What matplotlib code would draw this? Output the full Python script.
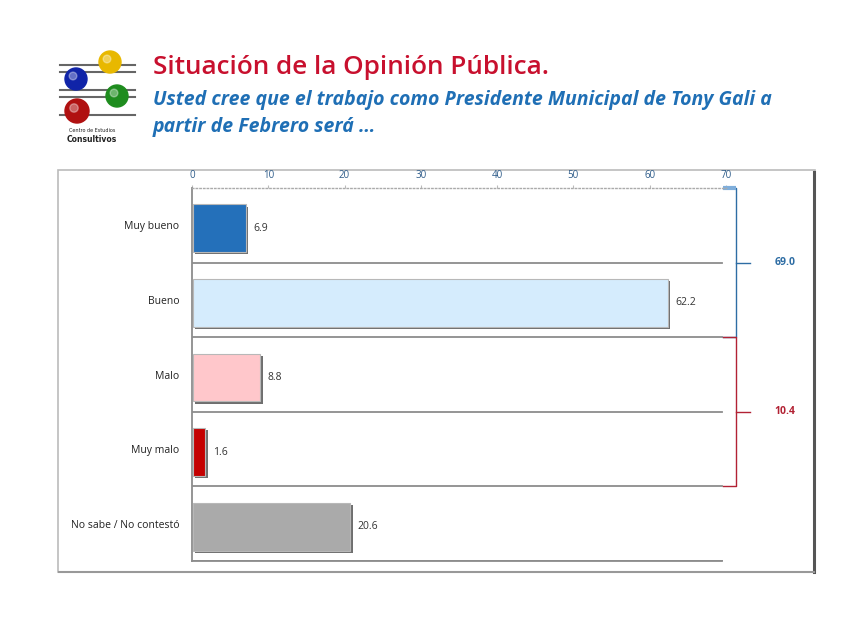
import matplotlib
matplotlib.use("Agg")
import matplotlib.pyplot as plt
from matplotlib.patches import Rectangle, Circle
import numpy as np

categories = ["Muy bueno", "Bueno", "Malo", "Muy malo", "No sabe / No contestó"]
values = [6.9, 62.2, 8.8, 1.6, 20.6]
bar_colors = ["#2470BA", "#D5ECFD", "#FFC7CB", "#C40000", "#AAAAAA"]
xticks = [0, 10, 20, 30, 40, 50, 60, 70]
group_labels = ["69.0", "10.4"]
group_spans = [(0, 1), (2, 3)]
group_colors = ["#2E6DA4", "#B22234"]

W, H = 864, 635
fig = plt.figure(figsize=(W / 100, H / 100), dpi=100)
fig.patch.set_facecolor("white")

def fx(px):
    return px / W

def fy(py):
    return 1 - py / H

# chart panel
panel = Rectangle((fx(58), fy(572)), fx(815) - fx(58), fy(170) - fy(572),
                  transform=fig.transFigure, facecolor="white", edgecolor="#BBBBBB", lw=1.2, zorder=-5)
fig.add_artist(panel)
fig.add_artist(plt.Line2D([fx(814), fx(814)], [fy(172), fy(572)], transform=fig.transFigure,
                          color="#555555", lw=2.2, zorder=-4))
fig.add_artist(plt.Line2D([fx(59), fx(814)], [fy(572), fy(572)], transform=fig.transFigure,
                          color="#999999", lw=1.5, zorder=-4))

ax = fig.add_axes([fx(192), fy(561), fx(726) - fx(192), fy(188) - fy(561)])
ax.set_facecolor("none")
ax.set_zorder(2)
ax.set_xlim(0, 70)
ax.set_ylim(4.5, -0.5)
y = np.arange(len(categories))
bh = 0.64
yb = y + 0.04
# shadow
ax.barh(yb + 0.03, values, height=bh, left=0.45, color="#6F6F6F", zorder=2)
ax.barh(yb, values, height=bh, left=0.15, color=bar_colors, edgecolor="#B8B8B8", lw=0.8, zorder=3)
for yi, v in zip(yb, values):
    ax.text(v + 1.1, yi, f"{v:.1f}", va="center", ha="left", fontsize=7.5,
            color="#333333", family="Open Sans")

# separators
for b in np.arange(0.5, len(categories), 1.0):
    ax.plot([0, 69.5], [b, b], color="#8C8C8C", lw=1.3, zorder=1)
ax.plot([0, 69.5], [4.5, 4.5], color="#8C8C8C", lw=1.3, zorder=1, clip_on=False)

ax.xaxis.tick_top()
ax.set_xticks(xticks)
ax.set_xticklabels([str(t) for t in xticks], fontsize=7, color="#2E5C8A", family="Open Sans")
ax.tick_params(axis="x", length=2, color="#BBBBBB", pad=3)
ax.set_yticks(y)
ax.set_yticklabels(categories, fontsize=7.5, color="#222222", family="Open Sans")
ax.tick_params(axis="y", length=0, pad=9)
for s in ["right", "bottom"]:
    ax.spines[s].set_visible(False)
ax.spines["left"].set_color("#8C8C8C")
ax.spines["left"].set_linewidth(1.3)
ax.spines["top"].set_color("#AAAAAA")
ax.spines["top"].set_linestyle(":")
ax.spines["top"].set_linewidth(1.0)

# group brackets
bx = 71.3
for (a, b), lab, col in zip(group_spans, group_labels, group_colors):
    y0, y1 = a - 0.5, b + 0.5
    ax.plot([69.6, bx, bx, 69.6], [y0, y0, y1, y1], color=col, lw=1.0, clip_on=False)
    ym = (y0 + y1) / 2
    ax.plot([bx, bx + 1.8], [ym, ym], color=col, lw=1.0, clip_on=False)
    ax.text(bx + 6.4, ym, lab, ha="center", va="center", fontsize=7.5, fontweight="bold",
            color=col, family="Open Sans", clip_on=False)
ax.plot([69.6, bx], [-0.5, -0.5], color="#7FAEDB", lw=3, clip_on=False, solid_capstyle="butt")

# titles
fig.text(fx(153), fy(68), "Situación de la Opinión Pública.", fontsize=18.8, color="#C8102E",
         family="Open Sans", fontweight="semibold", ha="left", va="center")
fig.text(fx(153), fy(100), "Usted cree que el trabajo como Presidente Municipal de Tony Gali a",
         fontsize=14.0, color="#1F6FB5", family="Open Sans", style="italic", fontweight="bold",
         ha="left", va="center")
fig.text(fx(153), fy(127), "partir de Febrero será …", fontsize=14.0, color="#1F6FB5",
         family="Open Sans", style="italic", fontweight="bold", ha="left", va="center")

# logo
lax = fig.add_axes([fx(50), fy(150), fx(140) - fx(50), fy(42) - fy(150)])
lax.set_xlim(50, 140)
lax.set_ylim(150, 42)
lax.axis("off")
for ly in [65, 72, 90, 97, 115]:
    lax.plot([60, 135], [ly, ly], color="#666666", lw=1.5)
for (cx, cy, r, c) in [(110, 62, 11, "#E8B800"), (76, 79, 11, "#1024A8"), (117, 96, 11, "#1E8C1E"),
                       (77, 111, 12, "#B01010")]:
    lax.add_patch(Circle((cx, cy), r, color=c, zorder=3))
    lax.add_patch(Circle((cx - 3, cy - 3), r * 0.35, color="white", alpha=0.35, zorder=4))
lax.text(92, 130, "Centro de Estudios", fontsize=3.5, ha="center", va="center", color="#222222")
lax.text(92, 140, "Consultivos", fontsize=5.5, ha="center", va="center", color="#222222", fontweight="bold")

fig.savefig("out.png", dpi=100)
